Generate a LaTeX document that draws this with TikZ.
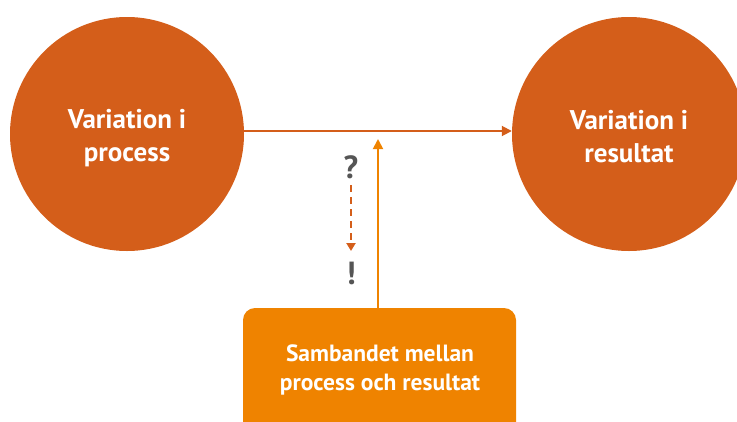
\documentclass[tikz,border=0pt]{standalone}
\usepackage{fontspec}
\setmainfont{PT Sans}
\usetikzlibrary{arrows.meta}
\definecolor{rust}{HTML}{D45E1A}
\definecolor{amber}{HTML}{EF8300}
\definecolor{slate}{HTML}{555555}
\tikzset{
  x=1pt, y=-1pt,
  blob/.style={circle, fill=rust, minimum size=234pt, inner sep=0pt},
  blobtext/.style={text=white, font=\fontsize{27}{33}\selectfont\bfseries, align=center},
  linkbox/.style={text=white, font=\fontsize{23.5}{29}\selectfont\bfseries, align=center},
  mainarrow/.style={draw=rust, line width=1.8pt, -{Triangle[length=10pt,width=10pt]}},
  feedarrow/.style={draw=amber, line width=1.8pt, -{Triangle[length=10pt,width=10pt]}},
  hintarrow/.style={draw=rust, line width=2pt, dash pattern=on 7pt off 5pt,
    -{Triangle[length=8pt,width=9pt]}},
  hint/.style={text=slate, font=\fontsize{32}{32}\selectfont\bfseries},
}
\begin{document}
\begin{tikzpicture}
\useasboundingbox (0,0) rectangle (737,421);
\clip (0,0) rectangle (737,421);
% the two states
\node[blob] (proc) at (127,134) {};
\node[blob] (res) at (629,134) {};
\node[blobtext] (proctext) at (127,138) {Variation i\\process};
\node[blobtext] (restext) at (629,137) {Variation i\\resultat};
% the link between them
\fill[amber, rounded corners=12pt] (243,308) rectangle (516,440);
\node[linkbox] (link) at (380,370) {Sambandet mellan\\process och resultat};
\coordinate (linktop) at (378,308);
\coordinate (hit) at (378,139);
% connectors
\draw[mainarrow] (proc.east |- 0,131) -- (res.west |- 0,131);
\draw[feedarrow] (linktop) -- (hit);
% question turning into insight
\node[hint] (q) at (351,167) {?};
\node[hint] (ex) at (351,273) {!};
\draw[hintarrow] (q.south |- 0,185) -- (ex.north |- 0,251);
\end{tikzpicture}
\end{document}
